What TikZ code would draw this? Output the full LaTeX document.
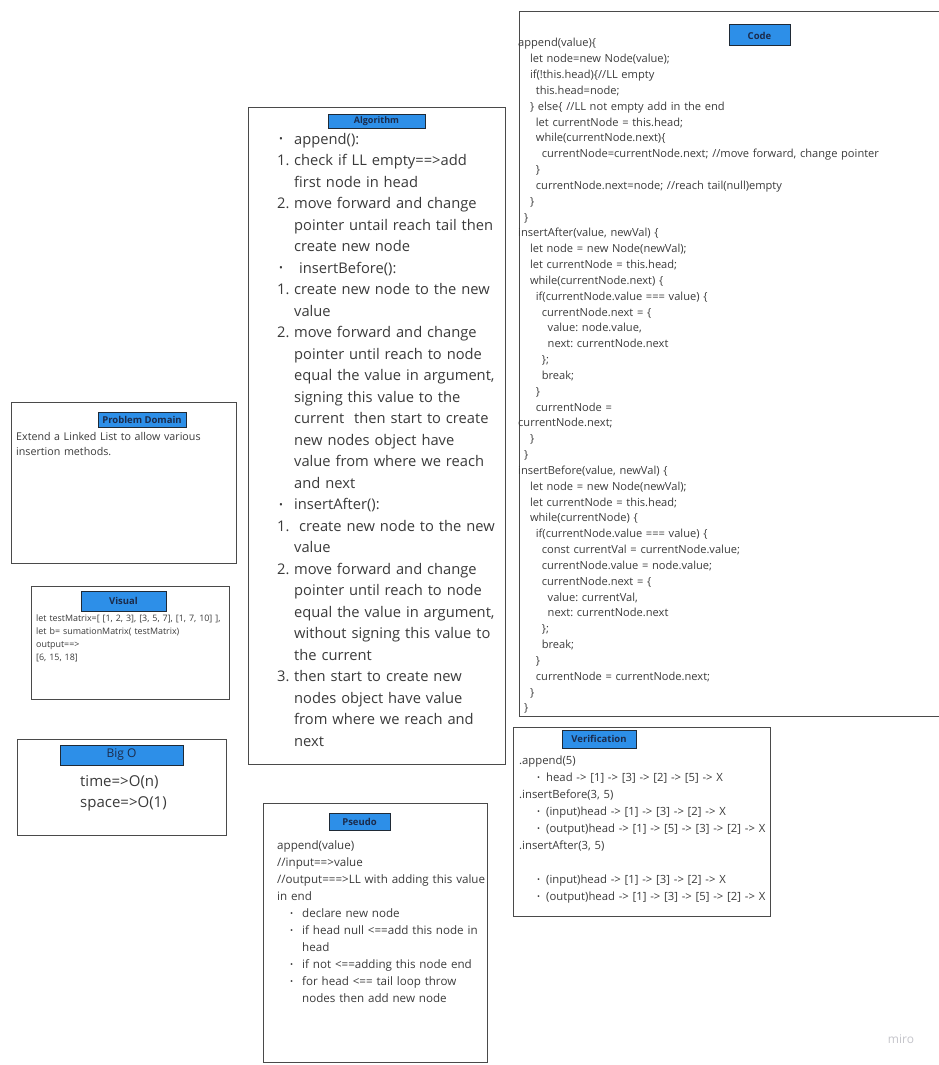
\documentclass[tikz,border=0pt]{standalone}
\usepackage{fontspec}
\setmainfont{Open Sans}
\usetikzlibrary{positioning}
\definecolor{badgeblue}{HTML}{2D8FE8}
\definecolor{badgeline}{HTML}{1F2A36}
\definecolor{titleink}{HTML}{1B2B4B}
\definecolor{frame}{HTML}{4A4A4A}
\definecolor{ink}{HTML}{3A3A3A}
\definecolor{logo}{HTML}{C4C4CA}
\tikzset{panel/.style = {draw=frame,line width=1.3pt,anchor=north west,inner sep=0pt}}
\tikzset{badge/.style = {draw=badgeline,fill=badgeblue,line width=1pt,inner sep=0pt,text=titleink,font=\fontsize{9.5}{11}\selectfont\bfseries}}
\tikzset{body/.style = {anchor=base west,inner sep=0pt,text=ink,align=left,text width=430pt}}
\newlength\ind
\setlength\ind{5.9pt}
\newcommand{\bul}{\raisebox{.08em}{\scalebox{.7}{•}}}
\newcommand{\li}[1]{\makebox[17pt][l]{#1}}
\frenchspacing

\begin{document}
\begin{tikzpicture}[x=1pt,y=-1pt]
		\useasboundingbox (0,0) rectangle (938,1065);
		
		% panels
		\node[panel,minimum width=225pt,minimum height=161pt] (pd) at (11,402) {};
		\node[panel,minimum width=198pt,minimum height=113pt] (vis) at (31,586) {};
		\node[panel,minimum width=209pt,minimum height=96pt] (bigo) at (17,739) {};
		\node[panel,minimum width=257pt,minimum height=657pt] (alg) at (248,107) {};
		\node[panel,minimum width=430pt,minimum height=705pt] (code) at (519,11) {};
		\node[panel,minimum width=257pt,minimum height=189pt] (ver) at (513,727) {};
		\node[panel,minimum width=224pt,minimum height=259pt] (pse) at (263,803) {};
		
		% titles
		\node[badge,minimum width=88pt,minimum height=15pt] (pdtitle) at (142,419.5) {Problem Domain};
		\node[badge,minimum width=85pt,minimum height=20pt] (vistitle) at (123.5,601) {Visual};
		\node[badge,minimum width=123pt,minimum height=20pt,font=\fontsize{12}{14}\selectfont] (bigotitle) at (121.5,755) {Big O};
		\node[badge,minimum width=97pt,minimum height=14pt,font=\fontsize{9}{11}\selectfont\bfseries] (algtitle) at (376.5,121) {Algorithm};
		\node[badge,minimum width=61pt,minimum height=21pt] (codetitle) at (759.5,35.5) {Code};
		\node[badge,minimum width=74pt,minimum height=18pt] (vertitle) at (599,739) {Verification};
		\node[badge,minimum width=61pt,minimum height=17pt] (psetitle) at (359.5,821.5) {Pseudo};
		
		% texts
		\node[body,font=\fontsize{10.7}{15}\selectfont] (pdtext) at (16,440.5) {Extend a Linked List to allow various\\ insertion methods.};
		
		\node[body,font=\fontsize{8.9}{13}\selectfont] (vistext) at (36,621) {let testMatrix=[ [1, 2, 3], [3, 5, 7], [1, 7, 10] ],\\ let b= sumationMatrix( testMatrix)\\ output==>\\ {}[6, 15, 18]};
		
		\node[body,font=\fontsize{15}{21}\selectfont] (bigotext) at (80,786.5) {time=>O(n)\\ space=>O(1)};
		
		\node[body,font=\fontsize{14.7}{21.5}\selectfont] (algtext) at (277,144) {\li{\hspace{2pt}\bul}append():\\
			\li{1.}check if LL empty==>add\\
			\li{}first node in head\\
			\li{2.}move forward and change\\
			\li{}pointer untail reach tail then\\
			\li{}create new node\\
			\li{\hspace{2pt}\bul}\ insertBefore():\\
			\li{1.}create new node to the new\\
			\li{}value\\
			\li{2.}move forward and change\\
			\li{}pointer until reach to node\\
			\li{}equal the value in argument,\\
			\li{}signing this value to the\\
			\li{}current\ \ then start to create\\
			\li{}new nodes object have\\
			\li{}value from where we reach\\
			\li{}and next\\
			\li{\hspace{2pt}\bul}insertAfter():\\
			\li{1.}\ create new node to the new\\
			\li{}value\\
			\li{2.}move forward and change\\
			\li{}pointer until reach to node\\
			\li{}equal the value in argument,\\
			\li{}without signing this value to\\
			\li{}the current\\
			\li{3.}then start to create new\\
			\li{}nodes object have value\\
			\li{}from where we reach and\\
			\li{}next};
		
		\node[body,font=\fontsize{11.1}{15.83}\selectfont] (codetext) at (518,47) {append(value)\{\\
			\hspace*{2\ind}let node=new Node(value);\\
			\hspace*{2\ind}if(!this.head)\{//LL empty\\
			\hspace*{3\ind}this.head=node;\\
			\hspace*{2\ind}\} else\{ //LL not empty add in the end\\
			\hspace*{3\ind}let currentNode = this.head;\\
			\hspace*{3\ind}while(currentNode.next)\{\\
			\hspace*{4\ind}currentNode=currentNode.next; //move forward, change pointer\\
			\hspace*{3\ind}\}\\
			\hspace*{3\ind}currentNode.next=node; //reach tail(null)empty\\
			\hspace*{2\ind}\}\\
			\hspace*{1\ind}\}\\
			insertAfter(value, newVal) \{\\
			\hspace*{2\ind}let node = new Node(newVal);\\
			\hspace*{2\ind}let currentNode = this.head;\\
			\hspace*{2\ind}while(currentNode.next) \{\\
			\hspace*{3\ind}if(currentNode.value === value) \{\\
			\hspace*{4\ind}currentNode.next = \{\\
			\hspace*{5\ind}value: node.value,\\
			\hspace*{5\ind}next: currentNode.next\\
			\hspace*{4\ind}\};\\
			\hspace*{4\ind}break;\\
			\hspace*{3\ind}\}\\
			\hspace*{3\ind}currentNode =\\
			currentNode.next;\\
			\hspace*{2\ind}\}\\
			\hspace*{1\ind}\}\\
			insertBefore(value, newVal) \{\\
			\hspace*{2\ind}let node = new Node(newVal);\\
			\hspace*{2\ind}let currentNode = this.head;\\
			\hspace*{2\ind}while(currentNode) \{\\
			\hspace*{3\ind}if(currentNode.value === value) \{\\
			\hspace*{4\ind}const currentVal = currentNode.value;\\
			\hspace*{4\ind}currentNode.value = node.value;\\
			\hspace*{4\ind}currentNode.next = \{\\
			\hspace*{5\ind}value: currentVal,\\
			\hspace*{5\ind}next: currentNode.next\\
			\hspace*{4\ind}\};\\
			\hspace*{4\ind}break;\\
			\hspace*{3\ind}\}\\
			\hspace*{3\ind}currentNode = currentNode.next;\\
			\hspace*{2\ind}\}\\
			\hspace*{1\ind}\}};
		
		\node[body,font=\fontsize{11.3}{17.1}\selectfont] (vertext) at (519,764) {.append(5)\\
			\hspace*{18pt}\makebox[9pt][l]{\bul}head -> [1] -> [3] -> [2] -> [5] -> X\\
			.insertBefore(3, 5)\\
			\hspace*{18pt}\makebox[9pt][l]{\bul}(input)head -> [1] -> [3] -> [2] -> X\\
			\hspace*{18pt}\makebox[9pt][l]{\bul}(output)head -> [1] -> [5] -> [3] -> [2] -> X\\
			.insertAfter(3, 5)\\
			\mbox{}\\
			\hspace*{18pt}\makebox[9pt][l]{\bul}(input)head -> [1] -> [3] -> [2] -> X\\
			\hspace*{18pt}\makebox[9pt][l]{\bul}(output)head -> [1] -> [3] -> [5] -> [2] -> X};
		
		\node[body,font=\fontsize{11.6}{17}\selectfont] (psetext) at (277,849) {append(value)\\
			//input==>value\\
			//output===>LL with adding this value\\
			in end\\
			\hspace*{13pt}\makebox[12pt][l]{\bul}declare new node\\
			\hspace*{13pt}\makebox[12pt][l]{\bul}if head null <==add this node in\\
			\hspace*{25pt}head\\
			\hspace*{13pt}\makebox[12pt][l]{\bul}if not <==adding this node end\\
			\hspace*{13pt}\makebox[12pt][l]{\bul}for head <== tail loop throw\\
			\hspace*{25pt}nodes then add new node};
		
		\node[anchor=base,inner sep=0pt,text=logo,font=\fontsize{12}{14}\selectfont] (miro) at (901,1043) {miro};
	\end{tikzpicture}
\end{document}
